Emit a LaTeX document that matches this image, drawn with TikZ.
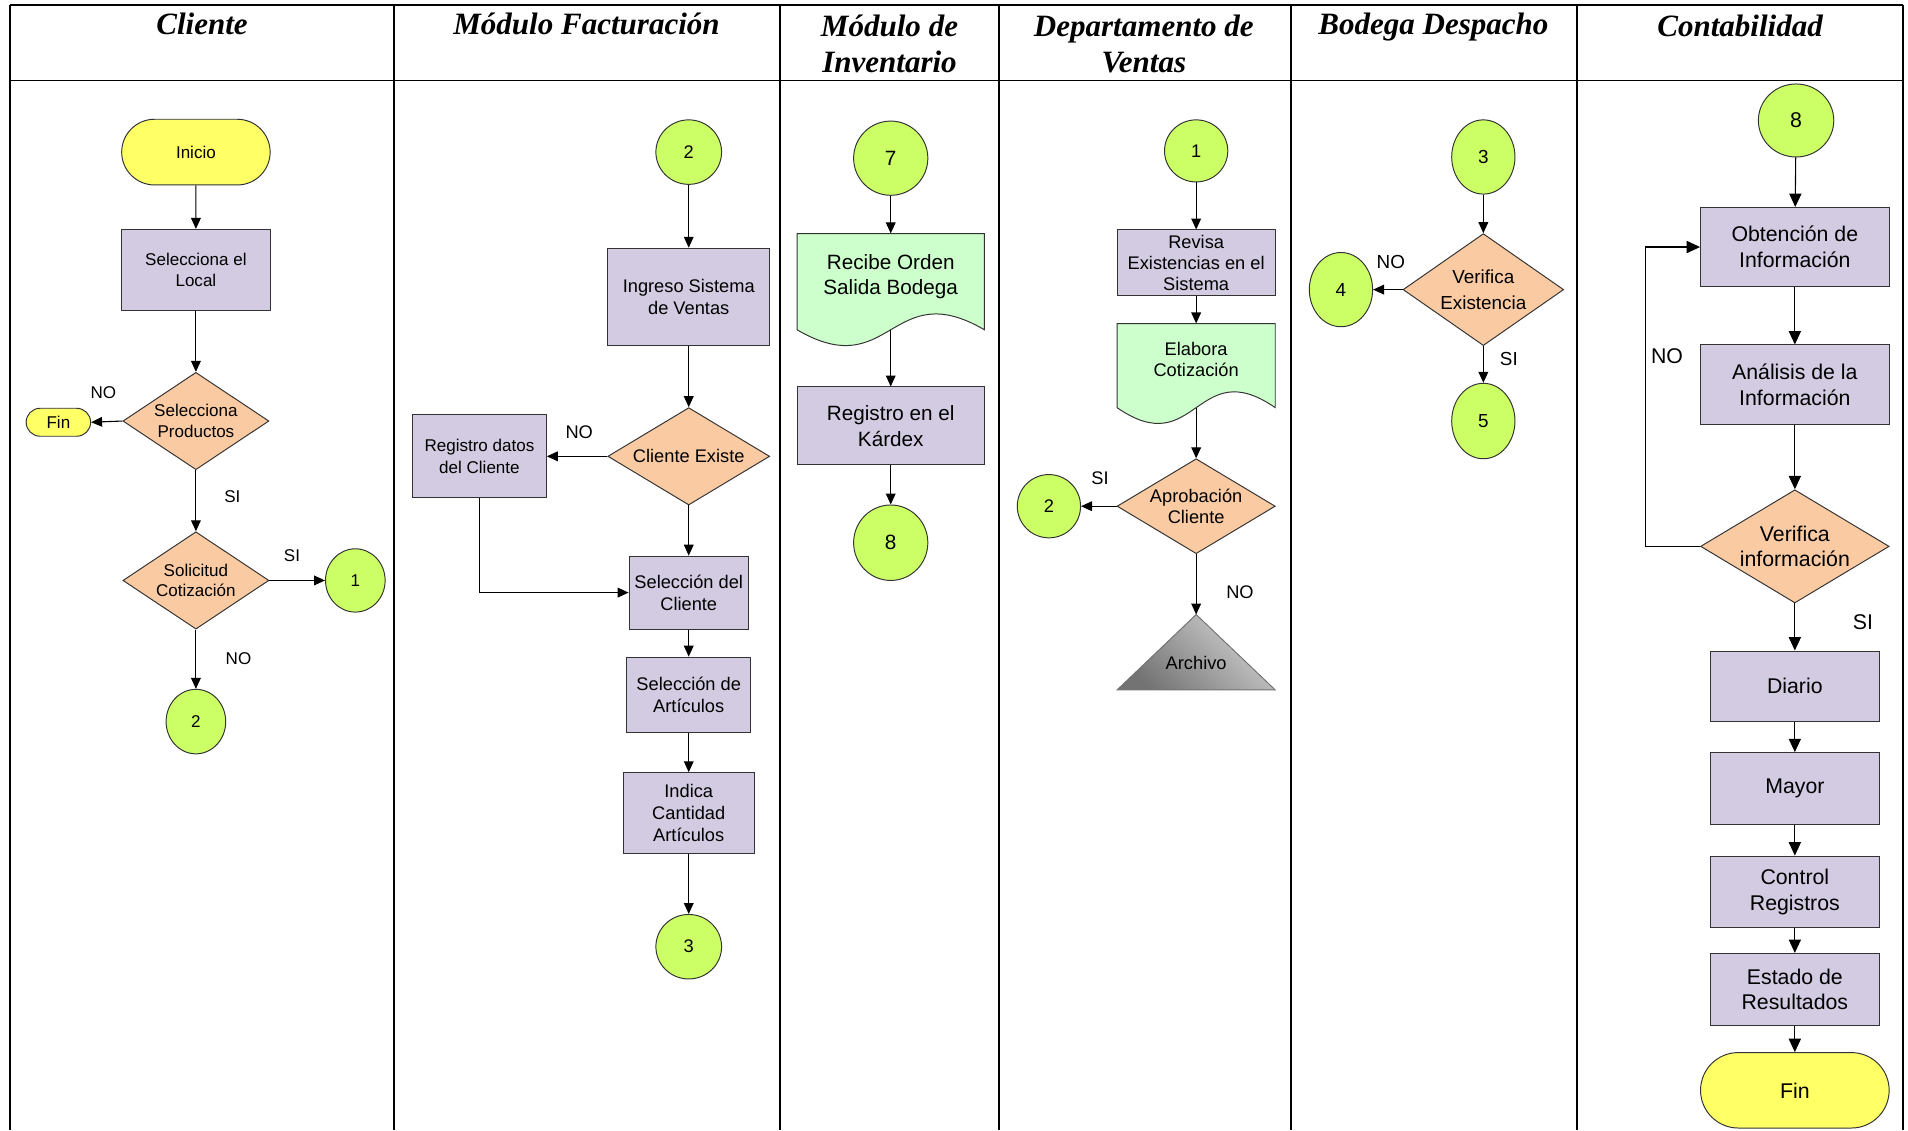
\documentclass[tikz,border=0pt]{standalone}
\usepackage{fontspec}
\setmainfont{Liberation Sans}
\newfontfamily\headfont{Liberation Serif}
\usetikzlibrary{shapes.geometric,shapes.misc,arrows.meta}
\definecolor{termyellow}{RGB}{255,255,102}
\definecolor{boxlav}{RGB}{211,203,225}
\definecolor{decpeach}{RGB}{250,203,163}
\definecolor{linkgreen}{RGB}{204,255,102}
\definecolor{docgreen}{RGB}{204,255,204}
\begin{document}
\begin{tikzpicture}[x=1pt,y=-1pt,>={Triangle[length=9pt,width=8pt]},
  grid/.style={line width=1.3pt},
  head/.style={font=\headfont\bfseries\itshape\fontsize{25.5}{30}\selectfont,align=center,inner sep=0pt},
  term/.style={rounded rectangle,draw=black!80,line width=0.8pt,fill=termyellow,inner sep=0pt},
  proc/.style={rectangle,draw=black!80,line width=0.8pt,fill=boxlav,inner sep=0pt,align=center},
  dec/.style={diamond,draw=black!80,line width=0.8pt,fill=decpeach,inner sep=0pt},
  link/.style={ellipse,draw=black!80,line width=0.8pt,fill=linkgreen,inner sep=0pt},
  docshape/.style={draw=black!80,line width=0.8pt,fill=docgreen},
  doctext/.style={rectangle,inner sep=0pt},
  flow/.style={->,line width=0.9pt},
  tag/.style={inner sep=0pt}]
  \useasboundingbox (0,0) rectangle (1568,929);
  \draw[grid] (8,4) -- (1564,4);
  \draw[grid] (8,66) -- (1564,66);
  \draw[grid] (8,4) -- (8,929);
  \draw[grid] (324,4) -- (324,929);
  \draw[grid] (641,4) -- (641,929);
  \draw[grid] (821,4) -- (821,929);
  \draw[grid] (1061,4) -- (1061,929);
  \draw[grid] (1296,4) -- (1296,929);
  \draw[grid] (1564,4) -- (1564,929);
  \node[head] (hcliente) at (166,20) {Cliente};
  \node[head] (hfactura) at (482,20) {Módulo Facturación};
  \node[head] (hinventario) at (731,36) {Módulo de\\Inventario};
  \node[head] (hventas) at (940,36) {Departamento de\\Ventas};
  \node[head] (hbodega) at (1178,22.5) {Bodega Despacho};
  \node[head] (hconta) at (1430,21.5) {Contabilidad};

  \begin{scope}[font=\fontsize{14}{17}\selectfont]
  \node[term,minimum width=122,minimum height=54] (inicio) at (161,125) {Inicio};
  \node[proc,minimum width=122,minimum height=67] (local) at (161,222) {Selecciona el\\Local};
  \node[dec,minimum width=120,minimum height=80,label={[align=center]center:Selecciona\\Productos}] (productos) at (161,346) {};
  \node[term,minimum width=53,minimum height=23] (finc) at (48,347) {Fin};
  \node[dec,minimum width=120,minimum height=80,label={[align=center]center:Solicitud\\Cotización}] (solicitud) at (161,477) {};
  \node[link,minimum width=49,minimum height=52] (unoc) at (292,477) {1};
  \node[link,minimum width=49,minimum height=53] (dosc) at (161,593) {2};
  \node[tag] (noprod) at (85,323) {NO};
  \node[tag] (siprod) at (191,408) {SI};
  \node[tag] (sisol) at (240,457) {SI};
  \node[tag] (nosol) at (196,541) {NO};
  \draw[flow] (inicio) -- (local);
  \draw[flow] (local) -- (productos);
  \draw[flow] (productos.west) -- (finc.east);
  \draw[flow] (productos) -- (solicitud);
  \draw[flow] (solicitud.east) -- (unoc.west);
  \draw[flow] (solicitud) -- (dosc);
  \end{scope}

  \begin{scope}[font=\fontsize{15}{18}\selectfont]
  \node[link,minimum width=54,minimum height=53] (dosf) at (566,125) {2};
  \node[proc,minimum width=133,minimum height=80] (ingreso) at (566,244) {Ingreso Sistema\\de Ventas};
  \node[dec,minimum width=133,minimum height=80,label={center:Cliente Existe}] (existe) at (566,375) {};
  \node[proc,minimum width=110,minimum height=68,font=\fontsize{14}{18}\selectfont] (registro) at (394,375) {Registro datos\\del Cliente};
  \node[proc,minimum width=98,minimum height=60] (selcliente) at (566,487) {Selección del\\Cliente};
  \node[proc,minimum width=102,minimum height=62] (selarticulo) at (566,571) {Selección de\\Artículos};
  \node[proc,minimum width=108,minimum height=66] (cantidad) at (566,668) {Indica\\Cantidad\\Artículos};
  \node[link,minimum width=54,minimum height=53] (tresf) at (566,778) {3};
  \node[tag] (noexiste) at (476,355) {NO};
  \draw[flow] (dosf) -- (ingreso);
  \draw[flow] (ingreso) -- (existe);
  \draw[flow] (existe.west) -- (registro.east);
  \draw[flow] (registro.south) |- (selcliente.west);
  \draw[flow] (existe) -- (selcliente);
  \draw[flow] (selcliente) -- (selarticulo);
  \draw[flow] (selarticulo) -- (cantidad);
  \draw[flow] (cantidad) -- (tresf);
  \end{scope}

  \begin{scope}[font=\fontsize{17}{21}\selectfont]
  \node[link,minimum width=61,minimum height=61] (siete) at (732,130) {7};
  \filldraw[docshape] (655,192) -- (809,192) -- (809,271) .. controls (732,226) and (732,316) .. (655,271) -- cycle;
  \node[doctext,minimum width=154,minimum height=79,label={[align=center,yshift=4pt]center:Recibe Orden\\Salida Bodega}] (recibe) at (732,231.5) {};
  \node[proc,minimum width=154,minimum height=64] (kardex) at (732,350) {Registro en el\\Kárdex};
  \node[link,minimum width=61,minimum height=62] (ochoi) at (732,446) {8};
  \draw[flow] (siete) -- (recibe);
  \draw[flow] (recibe) -- (kardex);
  \draw[flow] (kardex) -- (ochoi);
  \end{scope}

  \begin{scope}[font=\fontsize{15}{17.5}\selectfont]
  \node[link,minimum width=52,minimum height=51] (unov) at (983,124) {1};
  \node[proc,minimum width=130,minimum height=54] (revisa) at (983,216) {Revisa\\Existencias en el\\Sistema};
  \filldraw[docshape] (918,266) -- (1048,266) -- (1048,335) .. controls (983,290) and (983,380) .. (918,335) -- cycle;
  \node[doctext,minimum width=130,minimum height=69,label={[align=center,yshift=5pt]center:Elabora\\Cotización}] (elabora) at (983,300.5) {};
  \node[dec,minimum width=130,minimum height=78,label={[align=center]center:Aprobación\\Cliente}] (aprobacion) at (983,416) {};
  \node[link,minimum width=52,minimum height=52] (dosv) at (862,416) {2};
  \coordinate (archivotop) at (983,505);
  \shadedraw[draw=black!55,line width=0.8pt,top color=black!18,middle color=black!24,bottom color=black!55,shading angle=-45] (archivotop) -- (1048,567) -- (918,567) -- cycle;
  \node[tag] (archivo) at (983,545) {Archivo};
  \node[tag] (siaprob) at (904,393) {SI};
  \node[tag] (noaprob) at (1019,487) {NO};
  \draw[flow] (unov) -- (revisa);
  \draw[flow] (revisa) -- (elabora);
  \draw[flow] (elabora) -- (aprobacion);
  \draw[flow] (aprobacion.west) -- (dosv.east);
  \draw[flow] (aprobacion.south) -- (archivotop);
  \end{scope}

  \begin{scope}[font=\fontsize{15.5}{21}\selectfont]
  \node[link,minimum width=52,minimum height=61] (tresb) at (1219,129) {3};
  \node[dec,minimum width=132,minimum height=92,label={[align=center]center:Verifica\\Existencia}] (verexist) at (1219,238) {};
  \node[link,minimum width=52,minimum height=61] (cuatro) at (1102,238) {4};
  \node[link,minimum width=52,minimum height=62] (cinco) at (1219,346) {5};
  \node[tag] (noexist) at (1143,215) {NO};
  \node[tag] (siexist) at (1240,295) {SI};
  \draw[flow] (tresb) -- (verexist);
  \draw[flow] (verexist.west) -- (cuatro.east);
  \draw[flow] (verexist) -- (cinco);
  \end{scope}

  \begin{scope}[font=\fontsize{17.5}{21}\selectfont,>={Triangle[length=11pt,width=10pt]}]
  \node[link,minimum width=62,minimum height=60] (ochoc) at (1476,99) {8};
  \node[proc,minimum width=155,minimum height=65] (obtencion) at (1475,203) {Obtención de\\Información};
  \node[proc,minimum width=155,minimum height=65] (analisis) at (1475,316) {Análisis de la\\Información};
  \node[dec,minimum width=155,minimum height=93,label={[align=center]center:Verifica\\información}] (verinfo) at (1475,449) {};
  \node[proc,minimum width=139,minimum height=58] (diario) at (1475,564) {Diario};
  \node[proc,minimum width=139,minimum height=59] (mayor) at (1475,648) {Mayor};
  \node[proc,minimum width=139,minimum height=59] (control) at (1475,733) {Control\\Registros};
  \node[proc,minimum width=139,minimum height=59] (estado) at (1475,813) {Estado de\\Resultados};
  \node[term,minimum width=155,minimum height=62] (finconta) at (1475,896) {Fin};
  \node[tag] (noinfo) at (1370,293) {NO};
  \node[tag] (siinfo) at (1531,511) {SI};
  \draw[flow] (ochoc) -- (obtencion);
  \draw[flow] (obtencion) -- (analisis);
  \draw[flow] (analisis) -- (verinfo);
  \draw[flow] (verinfo.west) -- ++(-45,0) |- (obtencion.west);
  \draw[flow] (verinfo) -- (diario);
  \draw[flow] (diario) -- (mayor);
  \draw[flow] (mayor) -- (control);
  \draw[flow] (control) -- (estado);
  \draw[flow] (estado) -- (finconta);
  \end{scope}
\end{tikzpicture}
\end{document}
